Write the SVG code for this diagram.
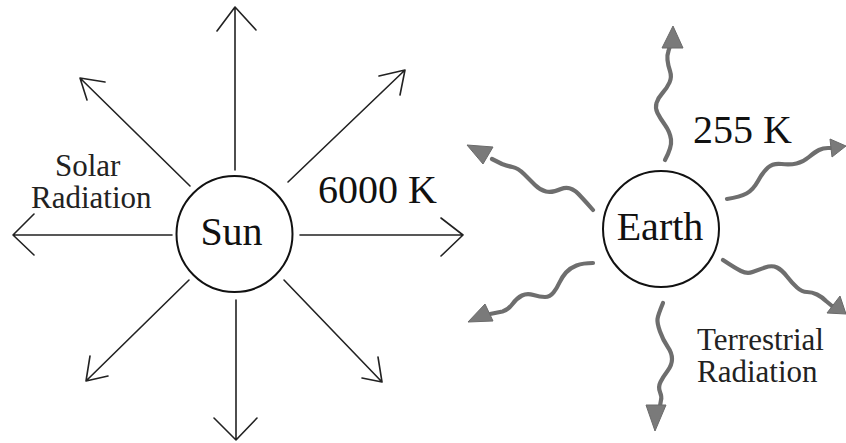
<svg xmlns="http://www.w3.org/2000/svg" width="846" height="443" viewBox="0 0 846 443">
<style>
.ray{fill:none;stroke:#222;stroke-width:1.6;stroke-linecap:round;stroke-linejoin:round}
.wave{fill:none;stroke:#6e6e6e;stroke-width:4.2;stroke-linecap:round;stroke-linejoin:round}
.head{fill:#7a7a7a;stroke:#6a6a6a;stroke-width:1;stroke-linejoin:round}
.body{fill:#fff;stroke:#111;stroke-width:2}
.big{font-family:"Liberation Serif","Times New Roman",serif;font-size:40px;fill:#111}
.lbl{font-family:"Liberation Serif","Times New Roman",serif;font-size:31px;fill:#222}
</style>
<rect width="846" height="443" fill="#fff"/>
<g id="connectors">
<g id="sun-rays">
<path class="ray" d="M235,170 L235,7 M217,31 L235,7 L256,30"/>
<path class="ray" d="M236,300 L236,440 M214,418 L236,440 L257,418"/>
<path class="ray" d="M172,235 L13,235 M34,214 L13,235 L34,255"/>
<path class="ray" d="M300,235 L463,235 M441,218 L463,235 L441,256"/>
<path class="ray" d="M190,186 L80,78 M105,82 L80,78 L87,100"/>
<path class="ray" d="M288,182 L405,70 M379,76 L405,70 L400,95"/>
<path class="ray" d="M189,280 L86,381 M90,356 L86,381 L108,376"/>
<path class="ray" d="M284,280 L382,382 M362,378 L382,382 L378,357"/>
</g>
<g id="earth-rays">
<path class="wave" d="M665,160 Q672,147 671,139.5 Q670,132 665,125 Q660,118 657.5,113 Q655,108 656.5,103 Q658,98 662.5,93 Q667,88 669.5,82.5 Q672,77 670,71 Q668,65 667.5,60 Q667,55 668.5,51 L670,46"/>
<polygon class="head" points="673,26 662,48 683,48"/>
<path class="wave" d="M727,199 Q740,197 746.5,193.5 Q753,190 758,181 Q763,172 768,167.5 Q773,163 781.5,164 Q790,165 796.5,163.5 Q803,162 809,157 Q815,152 819,150 Q823,148 828,148 L833,148"/>
<polygon class="head" points="846,146 830,139 832,157"/>
<path class="wave" d="M593,210 Q587,203 578.5,194 Q570,185 561,189 Q552,193 546,191.5 Q540,190 535,185 Q530,180 524,174 Q518,168 512.5,167 Q507,166 502,164 L492,159"/>
<polygon class="head" points="467,145 493,147 483,164"/>
<path class="wave" d="M593,263 Q583,263 576.5,265.5 Q570,268 566,272.5 Q562,277 559.5,282.5 Q557,288 553.5,292.5 Q550,297 545,297 Q540,297 533.5,295 Q527,293 522,295.5 Q517,298 512.5,304 Q508,310 502.5,311.5 L490,314"/>
<polygon class="head" points="468,322 485,304 493,321"/>
<path class="wave" d="M723,260 Q735,268 741,271 Q747,274 752.5,272 Q758,270 765,267.5 Q772,265 777,267.5 Q782,270 787,276.5 Q792,283 797,287.5 Q802,292 807,292 Q812,292 817,294.5 Q822,297 826,301 L832,306"/>
<polygon class="head" points="846,314 827,313 840,296"/>
<path class="wave" d="M663,303 Q658,315 657.5,319 Q657,323 660,331.5 Q663,340 667.5,346.5 Q672,353 672,359 Q672,365 667.5,371 Q663,377 660.5,382 Q658,387 660,392 Q662,397 661,400 L660,406"/>
<polygon class="head" points="655,431 646,405 666,405"/>
</g>
</g>
<g id="sun">
<circle class="body" cx="234.5" cy="234" r="58"/>
<text class="big" x="231.5" y="245" text-anchor="middle">Sun</text>
</g>
<g id="earth">
<circle class="body" cx="661" cy="229" r="58"/>
<text class="big" x="660" y="240" text-anchor="middle">Earth</text>
</g>
<g id="labels">
<text class="lbl" x="55" y="176">Solar</text>
<text class="lbl" x="31" y="208">Radiation</text>
<text class="lbl" x="697" y="350">Terrestrial</text>
<text class="lbl" x="697" y="382">Radiation</text>
<text class="big" x="318" y="203">6000 K</text>
<text class="big" x="693" y="143">255 K</text>
</g>
</svg>
